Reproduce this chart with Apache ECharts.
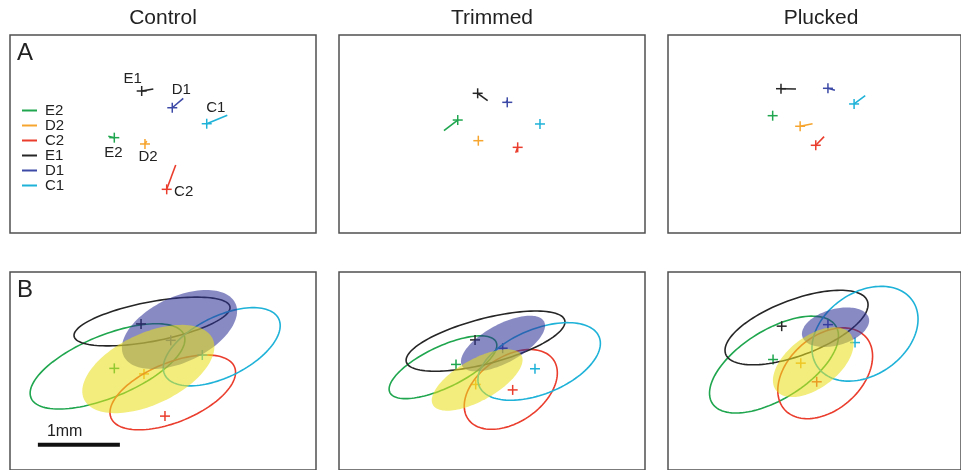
<!DOCTYPE html>
<html>
<head>
<meta charset="utf-8">
<script src="https://cdn.jsdelivr.net/npm/echarts@6/dist/echarts.min.js"></script>
<style>
  html, body { margin: 0; padding: 0; background: #ffffff; }
  #chart { width: 961px; height: 470px; }
</style>
</head>
<body>
<div id="chart"></div>
<script>
// Whisker channels, in legend order
const channels = ['E2', 'D2', 'C2', 'E1', 'D1', 'C1'];
const panelTitles = ['Control', 'Trimmed', 'Plucked'];

// Row A: mean stimulation site per whisker [x, y] in mm (y grows downward),
// and the end point of the displacement line drawn from each site.
const controlSitesA = [[1.272, 1.252], [1.646, 1.329], [1.911, 1.882], [1.606, 0.683], [1.979, 0.887], [2.399, 1.082]];
const controlEndsA  = [[1.199, 1.235], [1.667, 1.293], [2.021, 1.585], [1.748, 0.659], [2.113, 0.772], [2.650, 0.979]];
const trimmedSitesA = [[1.448, 1.037], [1.699, 1.289], [2.179, 1.370], [1.691, 0.711], [2.052, 0.821], [2.451, 1.085]];
const trimmedEndsA  = [[1.280, 1.167], [1.699, 1.289], [2.155, 1.435], [1.813, 0.801], [2.040, 0.800], [2.451, 1.085]];
const pluckedSitesA = [[1.333, 0.984], [1.683, 1.113], [1.882, 1.345], [1.439, 0.655], [2.037, 0.650], [2.370, 0.841]];
const pluckedEndsA  = [[1.333, 0.984], [1.841, 1.082], [1.988, 1.240], [1.630, 0.659], [2.126, 0.674], [2.512, 0.740]];

// Row B: map centres [x, y] in mm
const controlCentresB = [[1.272, 1.199], [1.634, 1.268], [1.890, 1.793], [1.598, 0.646], [1.960, 0.850], [2.345, 1.033]];
const trimmedCentresB = [[1.427, 1.150], [1.667, 1.399], [2.118, 1.467], [1.659, 0.845], [1.996, 0.948], [2.390, 1.204]];
const pluckedCentresB = [[1.338, 1.089], [1.691, 1.134], [1.894, 1.366], [1.448, 0.674], [2.037, 0.655], [2.382, 0.878]];

// Row B: representation ellipses [cx, cy, semi-major, semi-minor (mm), tilt (deg)]
const controlEllipses = [
  [1.189, 1.174, 1.012, 0.385, 23], [1.687, 1.207, 0.870, 0.440, 26], [1.985, 1.498, 0.817, 0.368, 23],
  [1.732, 0.616, 0.968, 0.245, 11], [2.067, 0.716, 0.756, 0.404, 26], [2.582, 0.930, 0.777, 0.376, 27]
];
const trimmedEllipses = [
  [1.268, 1.185, 0.720, 0.256, 26], [1.685, 1.344, 0.622, 0.256, 30], [2.095, 1.461, 0.638, 0.402, 36],
  [1.787, 0.860, 1.000, 0.280, 15], [2.000, 0.890, 0.571, 0.238, 29], [2.441, 1.113, 0.793, 0.402, 23]
];
const pluckedEllipses = [
  [1.350, 1.152, 0.922, 0.433, 31], [1.850, 1.122, 0.590, 0.322, 36], [2.002, 1.260, 0.687, 0.460, 40],
  [1.637, 0.691, 0.961, 0.348, 20], [2.134, 0.687, 0.439, 0.226, 15], [2.509, 0.768, 0.732, 0.518, 33]
];

// Scale bar: [x start, y, length] in mm
const scaleBar = [[0.34, 2.15, 1]];
const scaleLabel = '1mm';

// ---- styling & layout ----
const FONT = '"Liberation Sans", Arial, Helvetica, sans-serif';
const channelColors = {
  E2: '#1fa64e', D2: '#f6a52e', C2: '#ea3d2d', E1: '#262626', D1: '#3d4aa6', C1: '#1eb2d8'
};
const fillColors = { D1: 'rgba(45,50,152,0.57)', D2: 'rgba(232,224,30,0.58)' };
const fillZ = { D1: 3, D2: 4 };
// label offsets (px) from each site in the Control map of row A
const labelOffsets = [[-1, 15], [3, 13], [17, 3], [-9, -12], [9, -18], [9, -16]];

const PX_PER_MM = 82;
const panelLefts = [10, 339, 668];
const rowTops = [35, 272];
const panelW = 306;
const rowH = [198, 202];

const grids = [], xAxes = [], yAxes = [];
rowTops.forEach((top, r) => {
  panelLefts.forEach((left) => {
    grids.push({
      left: left, top: top, width: panelW, height: rowH[r],
      show: true, borderColor: '#505050', borderWidth: 1.5, backgroundColor: 'transparent'
    });
    const gi = grids.length - 1;
    xAxes.push({ type: 'value', gridIndex: gi, min: 0, max: panelW / PX_PER_MM, show: false });
    yAxes.push({ type: 'value', gridIndex: gi, min: 0, max: rowH[r] / PX_PER_MM, inverse: true, show: false });
  });
});

function plusShapes(c, color) {
  const s = 5;
  return [
    { type: 'line', shape: { x1: c[0] - s, y1: c[1], x2: c[0] + s, y2: c[1] }, style: { stroke: color, lineWidth: 1.5 } },
    { type: 'line', shape: { x1: c[0], y1: c[1] - s, x2: c[0], y2: c[1] + s }, style: { stroke: color, lineWidth: 1.5 } }
  ];
}

function markRenderer(withLabel) {
  return function (params, api) {
    const c = api.coord([api.value(0), api.value(1)]);
    const e = api.coord([api.value(2), api.value(3)]);
    const color = api.visual('color');
    const children = [
      { type: 'line', shape: { x1: c[0], y1: c[1], x2: e[0], y2: e[1] }, style: { stroke: color, lineWidth: 1.6 } }
    ].concat(plusShapes(c, color));
    if (withLabel) {
      const k = api.value(4);
      const off = labelOffsets[k];
      children.push({
        type: 'text',
        style: {
          x: c[0] + off[0], y: c[1] + off[1], text: channels[k],
          fill: '#222', font: '15px ' + FONT, align: 'center', verticalAlign: 'middle'
        }
      });
    }
    return { type: 'group', children: children };
  };
}

function centreRenderer(params, api) {
  const c = api.coord([api.value(0), api.value(1)]);
  return { type: 'group', children: plusShapes(c, api.visual('color')) };
}

function ellipseRenderer(fill) {
  return function (params, api) {
    const cx = api.value(0), cy = api.value(1), a = api.value(2), b = api.value(3);
    const th = api.value(4) * Math.PI / 180;
    const pts = [];
    const n = 120;
    for (let k = 0; k < n; k++) {
      const t = 2 * Math.PI * k / n;
      const x = cx + a * Math.cos(t) * Math.cos(th) - b * Math.sin(t) * Math.sin(th);
      const y = cy - (a * Math.cos(t) * Math.sin(th) + b * Math.sin(t) * Math.cos(th));
      pts.push(api.coord([x, y]));
    }
    return {
      type: 'polygon',
      shape: { points: pts },
      style: fill ? { fill: fill, stroke: null } : { fill: null, stroke: api.visual('color'), lineWidth: 1.6 }
    };
  };
}

const series = [];
const sitesA = [controlSitesA, trimmedSitesA, pluckedSitesA];
const endsA = [controlEndsA, trimmedEndsA, pluckedEndsA];
const centresB = [controlCentresB, trimmedCentresB, pluckedCentresB];
const ellipsesB = [controlEllipses, trimmedEllipses, pluckedEllipses];

// Row A: sites with displacement lines
sitesA.forEach((sites, p) => {
  channels.forEach((ch, k) => {
    series.push({
      type: 'custom', name: ch, xAxisIndex: p, yAxisIndex: p,
      itemStyle: { color: channelColors[ch] },
      renderItem: markRenderer(p === 0),
      encode: { x: 0, y: 1 },
      data: [[sites[k][0], sites[k][1], endsA[p][k][0], endsA[p][k][1], k]],
      z: 2, silent: true
    });
  });
});

// Row B: centres and ellipses
centresB.forEach((centres, p) => {
  const gi = 3 + p;
  channels.forEach((ch, k) => {
    series.push({
      type: 'custom', name: ch, xAxisIndex: gi, yAxisIndex: gi,
      itemStyle: { color: channelColors[ch] },
      renderItem: ellipseRenderer(fillColors[ch] || null),
      encode: { x: 0, y: 1 },
      data: [ellipsesB[p][k]],
      z: fillZ[ch] || 2, silent: true
    });
    series.push({
      type: 'custom', name: ch, xAxisIndex: gi, yAxisIndex: gi,
      itemStyle: { color: channelColors[ch] },
      renderItem: centreRenderer,
      encode: { x: 0, y: 1 },
      data: [centres[k]],
      z: 2, silent: true
    });
  });
});

// Scale bar in the Control map of row B
series.push({
  type: 'custom', name: 'scale', xAxisIndex: 3, yAxisIndex: 3,
  renderItem: function (params, api) {
    const s = api.coord([api.value(0), api.value(1)]);
    const e = api.coord([api.value(0) + api.value(2), api.value(1)]);
    return {
      type: 'group',
      children: [
        { type: 'line', shape: { x1: s[0], y1: s[1], x2: e[0], y2: e[1] }, style: { stroke: '#111', lineWidth: 4 } },
        { type: 'text', style: { x: s[0] + 9, y: s[1] - 13, text: scaleLabel, fill: '#222', font: '16px ' + FONT, align: 'left', verticalAlign: 'middle' } }
      ]
    };
  },
  encode: { x: 0, y: 1 },
  data: scaleBar, z: 5, silent: true
});

const graphics = [];
panelTitles.forEach((t, p) => {
  graphics.push({
    type: 'text', x: panelLefts[p] + panelW / 2, y: 18,
    style: { text: t, fill: '#222', font: '21px ' + FONT, align: 'center', verticalAlign: 'middle' }
  });
});
['A', 'B'].forEach((t, r) => {
  graphics.push({
    type: 'text', x: 25, y: rowTops[r] + 18,
    style: { text: t, fill: '#222', font: '24px ' + FONT, align: 'center', verticalAlign: 'middle' }
  });
});

const chart = echarts.init(document.getElementById('chart'), null, { renderer: 'canvas' });
chart.setOption({
  animation: false,
  backgroundColor: '#ffffff',
  grid: grids,
  xAxis: xAxes,
  yAxis: yAxes,
  legend: {
    data: channels,
    orient: 'vertical',
    left: 22, top: 103,
    padding: 0,
    itemGap: 0,
    itemWidth: 15, itemHeight: 2,
    icon: 'rect',
    selectedMode: false,
    textStyle: { fontSize: 15, lineHeight: 15, color: '#222', fontFamily: FONT, padding: [0, 0, 0, 3] }
  },
  graphic: graphics,
  series: series
});
</script>
</body>
</html>
